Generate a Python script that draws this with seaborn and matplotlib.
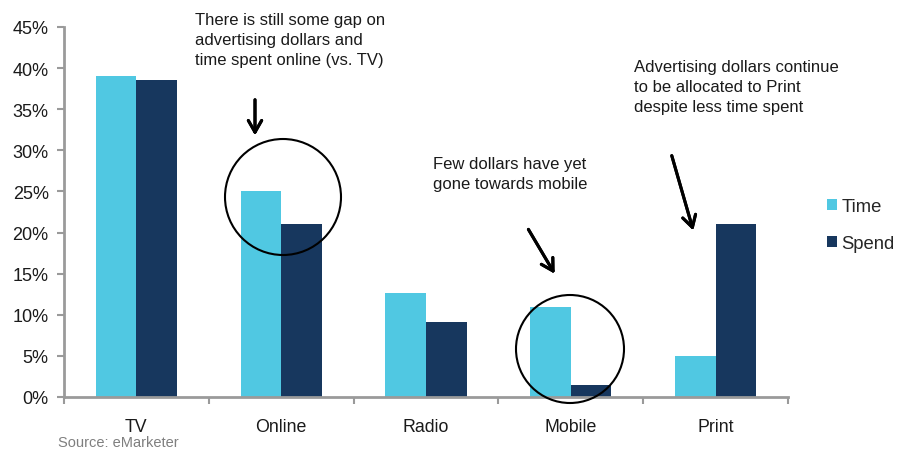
import matplotlib
matplotlib.use("Agg")
import matplotlib.pyplot as plt
import seaborn as sns
import pandas as pd
from matplotlib.patches import Ellipse, Patch
from matplotlib.ticker import FuncFormatter, MultipleLocator, FixedLocator

categories = ["TV", "Online", "Radio", "Mobile", "Print"]
time_vals = [39.1, 25.0, 12.6, 11.0, 5.0]
spend_vals = [38.6, 21.0, 9.1, 1.5, 21.0]
series = ["Time", "Spend"]
colors = ["#50C8E2", "#17375E"]

df = pd.DataFrame({
    "cat": categories * 2,
    "series": [series[0]] * len(categories) + [series[1]] * len(categories),
    "val": time_vals + spend_vals,
})

sns.set_theme(style="white")
plt.rcParams["font.family"] = ["Liberation Sans", "DejaVu Sans"]

W, H = 908, 452
fig = plt.figure(figsize=(W / 100, H / 100), dpi=100)
L, R, B, T = 64, 788, 398, 28
ax = fig.add_axes([L / W, 1 - B / H, (R - L) / W, (B - T) / H])

sns.barplot(data=df, x="cat", y="val", hue="series", hue_order=series,
            palette=colors, width=0.56, saturation=1, gap=0, ax=ax,
            edgecolor="none", legend=False)

ax.set_xlim(-0.5, len(categories) - 0.5)
ax.set_ylim(0, 45)
ax.yaxis.set_major_locator(MultipleLocator(5))
ax.yaxis.set_major_formatter(FuncFormatter(lambda v, p: f"{v:.0f}%"))
ax.set_xlabel("")
ax.set_ylabel("")
for s in ["top", "right"]:
    ax.spines[s].set_visible(False)
for s in ["left", "bottom"]:
    ax.spines[s].set_color("#9a9a9a")
    ax.spines[s].set_linewidth(2)
ax.tick_params(axis="y", left=True, length=5, width=1.5, color="#9a9a9a",
               labelsize=13, labelcolor="#1a1a1a", pad=6)
ax.tick_params(axis="x", which="major", bottom=False, labelsize=12.8,
               labelcolor="#1a1a1a", pad=9)
ax.xaxis.set_minor_locator(FixedLocator([i - 0.5 for i in range(len(categories) + 1)]))
ax.tick_params(axis="x", which="minor", bottom=True, length=5, width=1.5,
               color="#9a9a9a")
ax.grid(False)

# Legend
handles = [Patch(facecolor=c, edgecolor="none", label=s) for s, c in zip(series, colors)]
fig.legend(handles=handles, loc="center left", bbox_to_anchor=(810 / W, 1 - 226 / H),
           frameon=False, fontsize=13.3, handlelength=0.55, handleheight=0.55,
           handletextpad=0.25, labelspacing=1.1)

def fx(px):
    return px / W

def fy(py):
    return 1 - py / H

txt_kw = dict(fontsize=12, color="#1a1a1a", va="top", ha="left", linespacing=1.42,
              transform=fig.transFigure)
fig.text(fx(195), fy(13), "There is still some gap on\nadvertising dollars and\ntime spent online (vs. TV)", **txt_kw)
fig.text(fx(433), fy(157), "Few dollars have yet\ngone towards mobile", **txt_kw)
fig.text(fx(634), fy(60), "Advertising dollars continue\nto be allocated to Print\ndespite less time spent", **txt_kw)
fig.text(fx(58), fy(436), "Source: eMarketer", fontsize=10.5, color="#7f7f7f",
         va="top", ha="left", transform=fig.transFigure)

# Circles
for cx, cy, r in [(283, 198, 58), (570, 350, 54)]:
    fig.add_artist(Ellipse((fx(cx), fy(cy)), 2 * r / W, 2 * r / H,
                           transform=fig.transFigure, fill=False,
                           edgecolor="black", linewidth=1.5))

# Arrows
for (x0, y0), (x1, y1) in [((255, 98), (255, 139)), ((527, 228), (556, 277)),
                           ((671, 154), (694, 234))]:
    fig.add_artist(plt.annotate("", xy=(fx(x1), fy(y1)), xytext=(fx(x0), fy(y0)),
                                xycoords="figure fraction", textcoords="figure fraction",
                                arrowprops=dict(arrowstyle="->,head_length=0.7,head_width=0.4",
                                                lw=2.2, color="black")))

fig.savefig("out.png", dpi=100)
